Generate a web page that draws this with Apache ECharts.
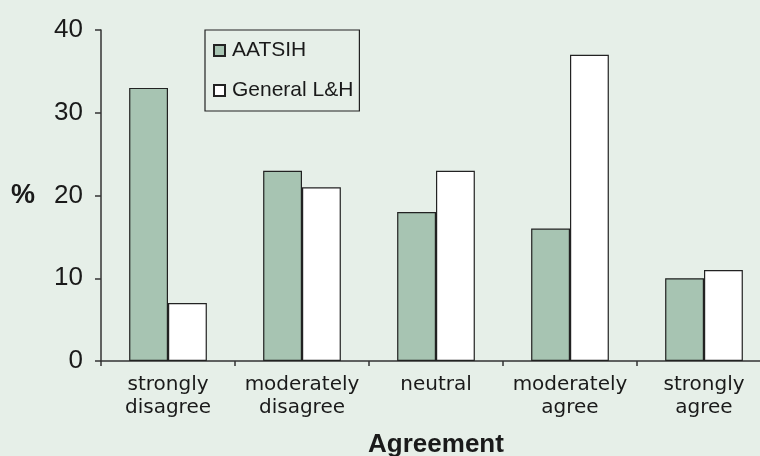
<!DOCTYPE html>
<html>
<head>
<meta charset="utf-8">
<script src="https://cdn.jsdelivr.net/npm/echarts@6/dist/echarts.min.js"></script>
<style>
  html, body { margin: 0; padding: 0; background: #e6efe8; }
  #chart { width: 760px; height: 456px; }
</style>
</head>
<body>
<div id="chart"></div>
<script>
// categories and values
var categories = ["strongly\ndisagree", "moderately\ndisagree", "neutral", "moderately\nagree", "strongly\nagree"];
var aatsihData = [33, 23, 18, 16, 10];
var generalData = [7, 21, 23, 37, 11];
var yTicks = [0, 10, 20, 30, 40];

var chart = echarts.init(document.getElementById("chart"));
var textColor = "#1a1a1a";
var lineColor = "#333333";

var option = {
  backgroundColor: "#e6efe8",
  animation: false,
  grid: {
    left: 101,
    right: -11,
    top: 30,
    bottom: 95,
    containLabel: false,
    outerBoundsMode: "none",
  },
  legend: {
    show: true,
    orient: "vertical",
    left: 205,
    top: 30,
    padding: [10, 6, 10, 8],
    itemGap: 19,
    itemWidth: 11,
    itemHeight: 11,
    icon: "rect",
    borderColor: "#222",
    borderWidth: 1.2,
    backgroundColor: "#e6efe8",
    textStyle: {
      color: textColor,
      fontFamily: "Liberation Sans",
      fontSize: 21,
      padding: [0, 0, 0, 2],
    },
    data: ["AATSIH", "General L&H"],
  },
  xAxis: {
    type: "category",
    data: categories,
    name: "Agreement",
    nameLocation: "middle",
    nameGap: 71,
    nameTextStyle: {
      color: textColor,
      fontFamily: "Liberation Sans",
      fontWeight: "bold",
      fontSize: 26,
    },
    axisLine: { show: true, lineStyle: { color: lineColor, width: 1.5 } },
    axisTick: { show: true, inside: false, interval: 0, length: 5, lineStyle: { color: lineColor, width: 1.5 } },
    axisLabel: {
      interval: 0,
      hideOverlap: false,
      color: textColor,
      fontFamily: "DejaVu Sans",
      fontSize: 20,
      lineHeight: 23,
      margin: 12,
    },
    splitLine: { show: false },
  },
  yAxis: {
    type: "value",
    min: yTicks[0],
    max: yTicks[yTicks.length - 1],
    interval: 10,
    name: "%",
    nameLocation: "middle",
    nameRotate: 0,
    nameGap: 66,
    nameTextStyle: {
      color: textColor,
      fontFamily: "Liberation Sans",
      fontWeight: "bold",
      fontSize: 27,
    },
    axisLine: { show: true, lineStyle: { color: lineColor, width: 1.5 } },
    axisTick: { show: true, inside: false, length: 6, lineStyle: { color: lineColor, width: 1.5 } },
    axisLabel: {
      color: textColor,
      fontFamily: "Liberation Sans",
      fontSize: 26,
      margin: 18,
    },
    splitLine: { show: false },
  },
  series: [
    {
      name: "AATSIH",
      type: "bar",
      barGap: "0%",
      barCategoryGap: "42%",
      itemStyle: {
        color: "#a7c4b2",
        borderColor: "#222",
        borderWidth: 1.2,
      },
      data: aatsihData,
    },
    {
      name: "General L&H",
      type: "bar",
      barGap: "0%",
      barCategoryGap: "42%",
      itemStyle: {
        color: "#ffffff",
        borderColor: "#222",
        borderWidth: 1.2,
      },
      data: generalData,
    },
  ],
};

chart.setOption(option);
</script>
</body>
</html>
